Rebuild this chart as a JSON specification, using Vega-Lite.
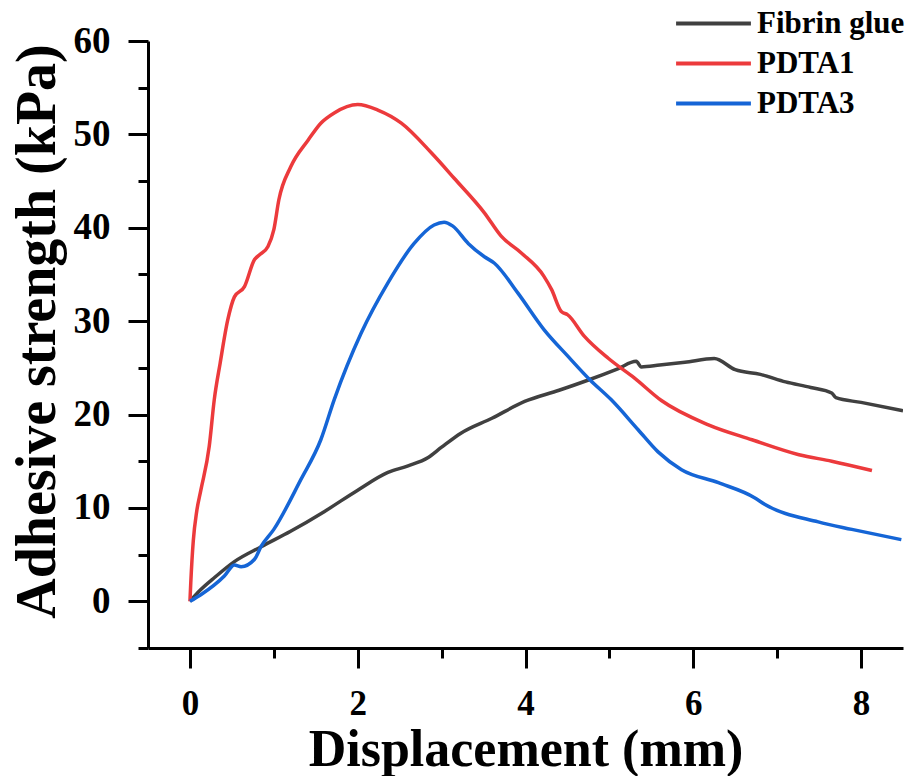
{
  "$schema": "https://vega.github.io/schema/vega-lite/v6.json",
  "width": 755,
  "height": 607,
  "autosize": {"type": "none"},
  "padding": {"left": 148, "top": 41, "right": 9, "bottom": 128},
  "background": "white",
  "config": {
    "view": {"stroke": null},
    "font": "Liberation Serif"
  },
  "data": {
    "values": [
      {"series": "Fibrin glue", "x": 0, "y": 0},
      {"series": "Fibrin glue", "x": 0.1, "y": 1.0},
      {"series": "Fibrin glue", "x": 0.3, "y": 2.6},
      {"series": "Fibrin glue", "x": 0.53, "y": 4.25},
      {"series": "Fibrin glue", "x": 0.85, "y": 5.85},
      {"series": "Fibrin glue", "x": 1.2, "y": 7.5},
      {"series": "Fibrin glue", "x": 1.6, "y": 9.6},
      {"series": "Fibrin glue", "x": 2.0, "y": 11.9},
      {"series": "Fibrin glue", "x": 2.36, "y": 13.8},
      {"series": "Fibrin glue", "x": 2.6, "y": 14.5},
      {"series": "Fibrin glue", "x": 2.84, "y": 15.4},
      {"series": "Fibrin glue", "x": 3.0, "y": 16.5},
      {"series": "Fibrin glue", "x": 3.23, "y": 18.0},
      {"series": "Fibrin glue", "x": 3.6, "y": 19.6},
      {"series": "Fibrin glue", "x": 3.99, "y": 21.4},
      {"series": "Fibrin glue", "x": 4.4, "y": 22.6},
      {"series": "Fibrin glue", "x": 4.75, "y": 23.7},
      {"series": "Fibrin glue", "x": 5.1, "y": 24.9},
      {"series": "Fibrin glue", "x": 5.32, "y": 25.7},
      {"series": "Fibrin glue", "x": 5.38, "y": 25.1},
      {"series": "Fibrin glue", "x": 5.6, "y": 25.3},
      {"series": "Fibrin glue", "x": 5.9, "y": 25.6},
      {"series": "Fibrin glue", "x": 6.25, "y": 26.0},
      {"series": "Fibrin glue", "x": 6.5, "y": 24.8},
      {"series": "Fibrin glue", "x": 6.8, "y": 24.3},
      {"series": "Fibrin glue", "x": 7.1, "y": 23.5},
      {"series": "Fibrin glue", "x": 7.4, "y": 22.9},
      {"series": "Fibrin glue", "x": 7.65, "y": 22.3},
      {"series": "Fibrin glue", "x": 7.7, "y": 21.8},
      {"series": "Fibrin glue", "x": 8.0, "y": 21.3},
      {"series": "Fibrin glue", "x": 8.5, "y": 20.4},

      {"series": "PDTA1", "x": 0, "y": 0},
      {"series": "PDTA1", "x": 0.01, "y": 2.0},
      {"series": "PDTA1", "x": 0.04, "y": 6.5},
      {"series": "PDTA1", "x": 0.08, "y": 9.6},
      {"series": "PDTA1", "x": 0.13, "y": 11.9},
      {"series": "PDTA1", "x": 0.23, "y": 16.6},
      {"series": "PDTA1", "x": 0.29, "y": 21.6},
      {"series": "PDTA1", "x": 0.36, "y": 25.5},
      {"series": "PDTA1", "x": 0.45, "y": 30.1},
      {"series": "PDTA1", "x": 0.53, "y": 32.6},
      {"series": "PDTA1", "x": 0.65, "y": 33.7},
      {"series": "PDTA1", "x": 0.77, "y": 36.6},
      {"series": "PDTA1", "x": 0.83, "y": 37.1},
      {"series": "PDTA1", "x": 0.93, "y": 38.0},
      {"series": "PDTA1", "x": 1.0, "y": 39.8},
      {"series": "PDTA1", "x": 1.06, "y": 43.0},
      {"series": "PDTA1", "x": 1.2, "y": 46.5},
      {"series": "PDTA1", "x": 1.41, "y": 49.4},
      {"series": "PDTA1", "x": 1.56, "y": 51.2},
      {"series": "PDTA1", "x": 1.72, "y": 52.3},
      {"series": "PDTA1", "x": 2.0, "y": 53.2},
      {"series": "PDTA1", "x": 2.24, "y": 52.6},
      {"series": "PDTA1", "x": 2.52, "y": 51.2},
      {"series": "PDTA1", "x": 2.88, "y": 48.0},
      {"series": "PDTA1", "x": 3.15, "y": 45.3},
      {"series": "PDTA1", "x": 3.51, "y": 41.6},
      {"series": "PDTA1", "x": 3.71, "y": 39.1},
      {"series": "PDTA1", "x": 3.95, "y": 37.3},
      {"series": "PDTA1", "x": 4.22, "y": 34.8},
      {"series": "PDTA1", "x": 4.31, "y": 33.4},
      {"series": "PDTA1", "x": 4.43, "y": 31.0},
      {"series": "PDTA1", "x": 4.5, "y": 30.7},
      {"series": "PDTA1", "x": 4.7, "y": 28.4},
      {"series": "PDTA1", "x": 4.99, "y": 26.0},
      {"series": "PDTA1", "x": 5.3, "y": 23.9},
      {"series": "PDTA1", "x": 5.62, "y": 21.5},
      {"series": "PDTA1", "x": 6.18, "y": 18.9},
      {"series": "PDTA1", "x": 6.7, "y": 17.3},
      {"series": "PDTA1", "x": 7.26, "y": 15.7},
      {"series": "PDTA1", "x": 7.65, "y": 15.0},
      {"series": "PDTA1", "x": 8.13, "y": 14.0},

      {"series": "PDTA3", "x": 0, "y": 0},
      {"series": "PDTA3", "x": 0.13, "y": 0.7},
      {"series": "PDTA3", "x": 0.41, "y": 2.7},
      {"series": "PDTA3", "x": 0.53, "y": 3.9},
      {"series": "PDTA3", "x": 0.61, "y": 3.7},
      {"series": "PDTA3", "x": 0.77, "y": 4.5},
      {"series": "PDTA3", "x": 0.85, "y": 5.9},
      {"series": "PDTA3", "x": 1.0, "y": 7.7},
      {"series": "PDTA3", "x": 1.32, "y": 13.0},
      {"series": "PDTA3", "x": 1.56, "y": 17.3},
      {"series": "PDTA3", "x": 1.72, "y": 21.6},
      {"series": "PDTA3", "x": 2.04, "y": 28.7},
      {"series": "PDTA3", "x": 2.36, "y": 34.1},
      {"series": "PDTA3", "x": 2.67, "y": 38.3},
      {"series": "PDTA3", "x": 2.91, "y": 40.3},
      {"series": "PDTA3", "x": 3.03, "y": 40.6},
      {"series": "PDTA3", "x": 3.13, "y": 40.2},
      {"series": "PDTA3", "x": 3.32, "y": 38.3},
      {"series": "PDTA3", "x": 3.51, "y": 36.9},
      {"series": "PDTA3", "x": 3.63, "y": 36.2},
      {"series": "PDTA3", "x": 3.91, "y": 33.0},
      {"series": "PDTA3", "x": 4.22, "y": 29.1},
      {"series": "PDTA3", "x": 4.51, "y": 26.2},
      {"series": "PDTA3", "x": 4.77, "y": 23.7},
      {"series": "PDTA3", "x": 5.02, "y": 21.6},
      {"series": "PDTA3", "x": 5.34, "y": 18.4},
      {"series": "PDTA3", "x": 5.58, "y": 16.0},
      {"series": "PDTA3", "x": 5.86, "y": 14.1},
      {"series": "PDTA3", "x": 6.3, "y": 12.7},
      {"series": "PDTA3", "x": 6.73, "y": 11.1},
      {"series": "PDTA3", "x": 6.85, "y": 10.4},
      {"series": "PDTA3", "x": 7.49, "y": 8.5},
      {"series": "PDTA3", "x": 7.89, "y": 7.7},
      {"series": "PDTA3", "x": 8.48, "y": 6.6}
    ]
  },
  "mark": {"type": "line", "strokeWidth": 3.5, "clip": true, "interpolate": "monotone"},
  "encoding": {
    "x": {
      "field": "x",
      "type": "quantitative",
      "scale": {"domain": [-0.5, 8.5], "nice": false, "zero": false},
      "axis": {
        "title": "Displacement (mm)",
        "titleFont": "Liberation Serif",
        "titleFontSize": 52,
        "titleFontWeight": "bold",
        "titleColor": "black",
        "titlePadding": 3,
        "values": [0, 1, 2, 3, 4, 5, 6, 7, 8],
        "labelExpr": "datum.value % 2 === 0 ? datum.label : ''",
        "labelFont": "Liberation Serif",
        "labelFontSize": 35,
        "labelFontWeight": "bold",
        "labelColor": "black",
        "labelPadding": 18,
        "labelFlush": false,
        "labelOverlap": false,
        "tickSize": {"condition": {"test": "datum.value % 2 === 0", "value": 20}, "value": 10},
        "tickWidth": 3,
        "tickColor": "black",
        "domainColor": "black",
        "domainWidth": 3,
        "grid": false
      }
    },
    "y": {
      "field": "y",
      "type": "quantitative",
      "scale": {"domain": [-5, 60], "nice": false, "zero": false},
      "axis": {
        "title": "Adhesive strength (kPa)",
        "titleFont": "Liberation Serif",
        "titleFontSize": 56,
        "titleFontWeight": "bold",
        "titleColor": "black",
        "titlePadding": 7,
        "titleY": 290,
        "values": [-5, 0, 5, 10, 15, 20, 25, 30, 35, 40, 45, 50, 55, 60],
        "labelExpr": "datum.value % 10 === 0 ? datum.label : ''",
        "labelFont": "Liberation Serif",
        "labelFontSize": 37,
        "labelFontWeight": "bold",
        "labelColor": "black",
        "labelPadding": 18,
        "labelFlush": false,
        "labelOverlap": false,
        "tickSize": {"condition": {"test": "datum.value % 10 === 0", "value": 20}, "value": 10},
        "tickWidth": 3,
        "tickColor": "black",
        "domainColor": "black",
        "domainWidth": 3,
        "grid": false
      }
    },
    "color": {
      "field": "series",
      "type": "nominal",
      "scale": {
        "domain": ["Fibrin glue", "PDTA1", "PDTA3"],
        "range": ["#404040", "#ec3a3c", "#1565d6"]
      },
      "legend": {
        "title": null,
        "orient": "none",
        "legendX": 550,
        "legendY": -33,
        "symbolType": "M-4,0H4",
        "symbolSize": 350,
        "symbolStrokeWidth": 4,
        "labelFont": "Liberation Serif",
        "labelFontSize": 31,
        "labelFontWeight": "bold",
        "labelColor": "black",
        "labelOffset": 28,
        "rowPadding": 8,
        "padding": 0
      }
    }
  }
}
